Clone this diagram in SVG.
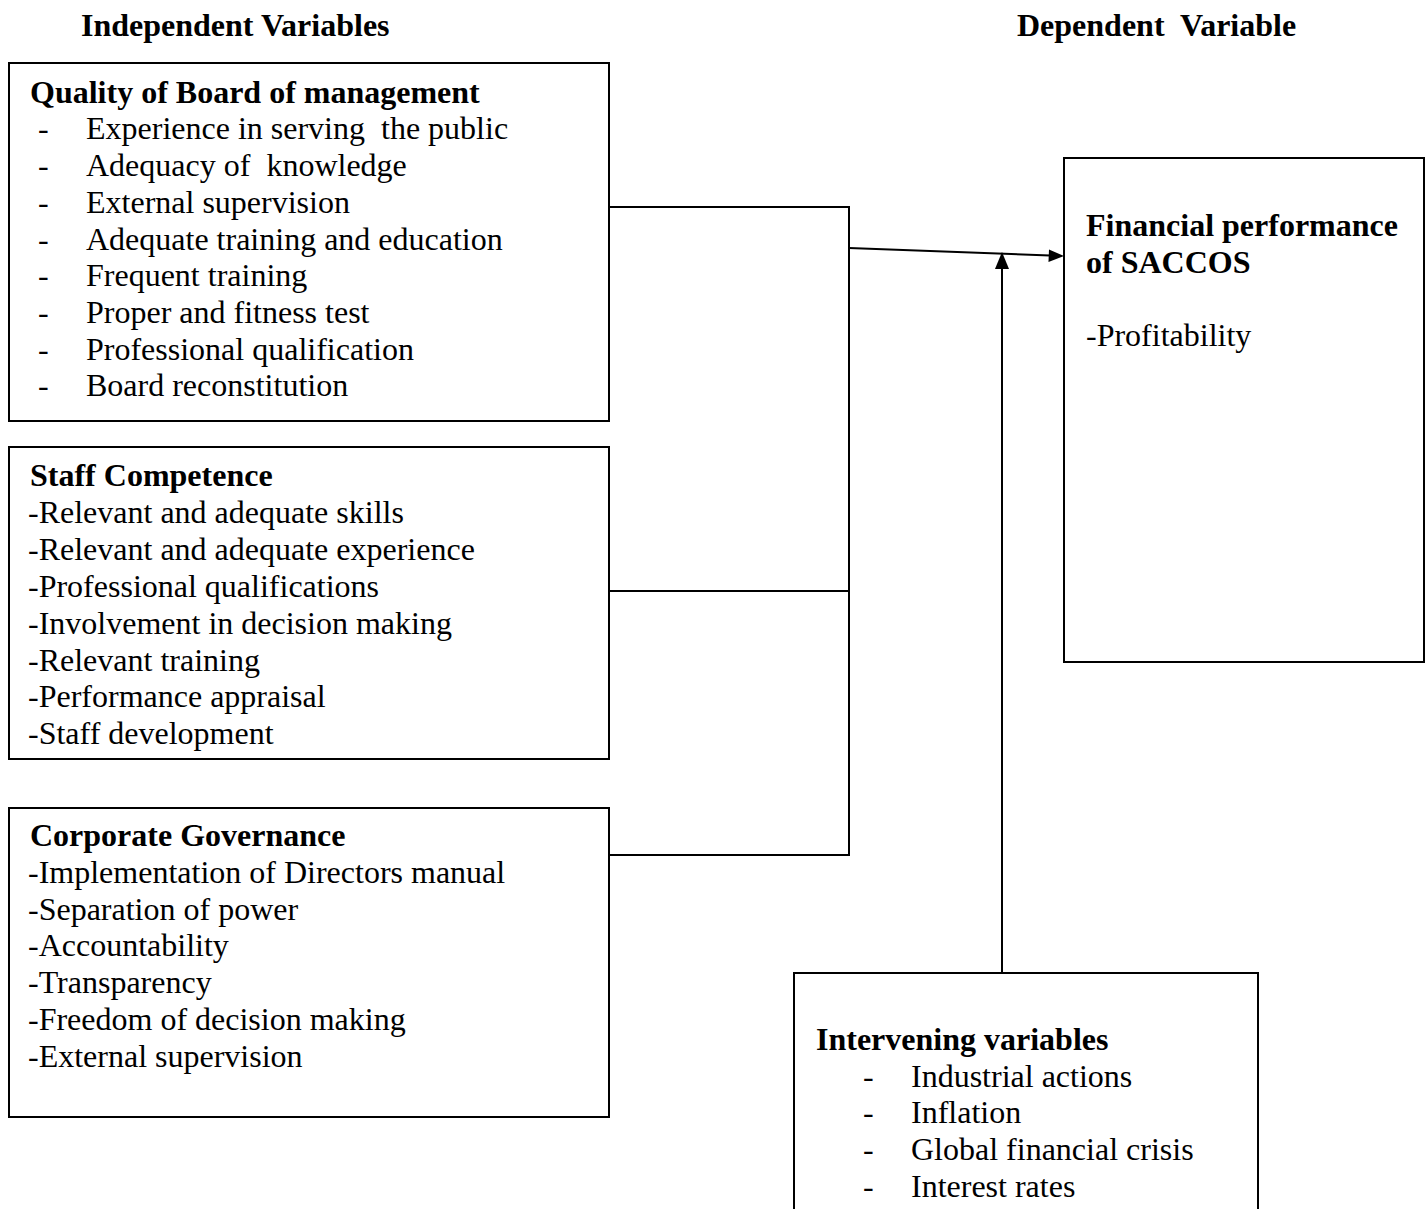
<svg xmlns="http://www.w3.org/2000/svg" width="1427" height="1209" viewBox="0 0 1427 1209">
<style>
text{font-family:"Liberation Serif","Times New Roman",serif;font-size:32px;fill:#000}
.b{font-weight:bold}
.box{fill:#fff;stroke:#000;stroke-width:2}
.ln{fill:none;stroke:#000;stroke-width:2}
</style>
<defs>
<marker id="ah" viewBox="0 0 10 10" refX="10" refY="5" markerWidth="8" markerHeight="7" markerUnits="userSpaceOnUse" orient="auto">
<path d="M0,0 L10,5 L0,10 Z" fill="#000"/>
</marker>
</defs>
<rect width="1427" height="1209" fill="#fff"/>
<g id="headers">
<text class="b" x="81" y="36" font-size="31">Independent Variables</text>
<text class="b" x="1017" y="36" font-size="31" xml:space="preserve">Dependent  Variable</text>
</g>
<g id="connectors">
<polyline class="ln" points="609,207 849,207 849,855 609,855"/>
<line class="ln" x1="609" y1="591" x2="849" y2="591"/>
<line class="ln" x1="849" y1="248" x2="1050" y2="255.5"/>
<path d="M1064,256 L1049,249.5 L1048.5,262 Z" fill="#000"/>
<line class="ln" x1="1002" y1="973" x2="1002" y2="268"/>
<path d="M1002,252 L995,269 L1009,269 Z" fill="#000"/>
</g>
<g id="board">
<rect class="box" x="9" y="63" width="600" height="358"/>
<text class="b" x="30" y="103">Quality of Board of management</text>
<text x="38" y="139">-</text><text x="86" y="139" xml:space="preserve">Experience in serving  the public</text>
<text x="38" y="176">-</text><text x="86" y="176" xml:space="preserve">Adequacy of  knowledge</text>
<text x="38" y="213">-</text><text x="86" y="213">External supervision</text>
<text x="38" y="250">-</text><text x="86" y="250">Adequate training and education</text>
<text x="38" y="286">-</text><text x="86" y="286">Frequent training</text>
<text x="38" y="323">-</text><text x="86" y="323">Proper and fitness test</text>
<text x="38" y="360">-</text><text x="86" y="360">Professional qualification</text>
<text x="38" y="396">-</text><text x="86" y="396">Board reconstitution</text>
</g>
<g id="staff">
<rect class="box" x="9" y="447" width="600" height="312"/>
<text class="b" x="30" y="486">Staff Competence</text>
<text x="28" y="523">-Relevant and adequate skills</text>
<text x="28" y="560">-Relevant and adequate experience</text>
<text x="28" y="597">-Professional qualifications</text>
<text x="28" y="634">-Involvement in decision making</text>
<text x="28" y="671">-Relevant training</text>
<text x="28" y="707">-Performance appraisal</text>
<text x="28" y="744">-Staff development</text>
</g>
<g id="governance">
<rect class="box" x="9" y="808" width="600" height="309"/>
<text class="b" x="30" y="846">Corporate Governance</text>
<text x="28" y="883">-Implementation of Directors manual</text>
<text x="28" y="920">-Separation of power</text>
<text x="28" y="956">-Accountability</text>
<text x="28" y="993">-Transparency</text>
<text x="28" y="1030">-Freedom of decision making</text>
<text x="28" y="1067">-External supervision</text>
</g>
<g id="performance">
<rect class="box" x="1064" y="158" width="360" height="504"/>
<text class="b" x="1086" y="236">Financial performance</text>
<text class="b" x="1086" y="273">of SACCOS</text>
<text x="1086" y="346">-Profitability</text>
</g>
<g id="intervening">
<rect class="box" x="794" y="973" width="464" height="250"/>
<text class="b" x="816" y="1050">Intervening variables</text>
<text x="863" y="1087">-</text><text x="911" y="1087">Industrial actions</text>
<text x="863" y="1123">-</text><text x="911" y="1123">Inflation</text>
<text x="863" y="1160">-</text><text x="911" y="1160">Global financial crisis</text>
<text x="863" y="1197">-</text><text x="911" y="1197">Interest rates</text>
</g>
</svg>
